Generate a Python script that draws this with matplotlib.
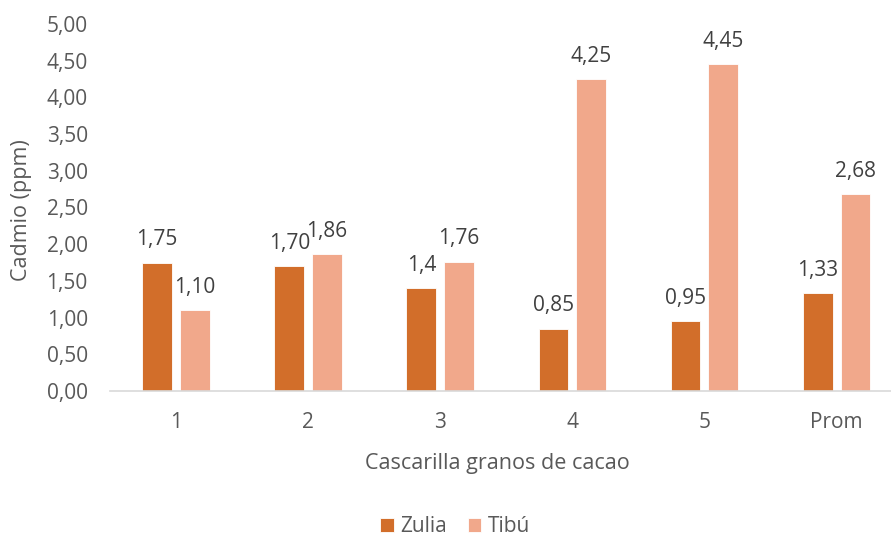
import matplotlib
matplotlib.use("Agg")
import matplotlib.pyplot as plt
import numpy as np

categories = ["1", "2", "3", "4", "5", "Prom"]
series_names = ["Zulia", "Tibú"]
zulia_labels = ["1,75", "1,70", "1,4", "0,85", "0,95", "1,33"]
tibu_labels = ["1,10", "1,86", "1,76", "4,25", "4,45", "2,68"]
y_ticks = [0, 0.5, 1, 1.5, 2, 2.5, 3, 3.5, 4, 4.5, 5]

zulia = [float(s.replace(",", ".")) for s in zulia_labels]
tibu = [float(s.replace(",", ".")) for s in tibu_labels]

plt.rcParams["font.family"] = ["Open Sans", "DejaVu Sans"]

W, H = 891, 540
fig = plt.figure(figsize=(W / 100, H / 100), dpi=100)
ax = fig.add_axes([110 / W, (H - 391) / H, (W - 110) / W, (391 - 24) / H])

colors = ["#D26E2A", "#F1A88B"]
x = np.arange(len(categories))
bw = 0.225
offs = [-0.143, 0.143]
for vals, labs, off, col, name in zip([zulia, tibu], [zulia_labels, tibu_labels], offs, colors, series_names):
    bars = ax.bar(x + off, vals, width=bw, color=col, edgecolor="white", linewidth=0.6, label=name, zorder=2)
    for b, lab in zip(bars, labs):
        ax.annotate(lab, (b.get_x() + b.get_width() / 2, b.get_height()),
                    xytext=(0, 9), textcoords="offset points",
                    ha="center", va="bottom", fontsize=15, color="#404040")

ax.set_xlim(-0.5, -0.5 + (W - 110) / 132.1)
ax.set_ylim(0, 5)
ax.set_xticks(x)
ax.set_xticklabels(categories)
ax.set_yticks(y_ticks)
ax.set_yticklabels([f"{v:.2f}".replace(".", ",") for v in y_ticks])
ax.tick_params(axis="both", length=0, labelsize=15, labelcolor="#595959")
ax.tick_params(axis="y", pad=16)
ax.tick_params(axis="x", pad=15)

for s in ["top", "right", "left"]:
    ax.spines[s].set_visible(False)
ax.spines["bottom"].set_color("#D9D9D9")
ax.spines["bottom"].set_linewidth(1.2)

fig.text(22 / W, 1 - 210 / H, "Cadmio (ppm)", rotation=90, ha="center", va="center",
         fontsize=15.5, color="#595959")
fig.text(497 / W, 1 - 464 / H, "Cascarilla granos de cacao", ha="center", va="center",
         fontsize=15.5, color="#595959")

leg = fig.legend(loc="center", bbox_to_anchor=(455 / W, 1 - 527 / H), ncol=2, frameon=False,
                 fontsize=15, handlelength=0.65, handleheight=0.65, handletextpad=0.3,
                 columnspacing=1.0, labelcolor="#595959")

fig.savefig("out.png", dpi=100)
